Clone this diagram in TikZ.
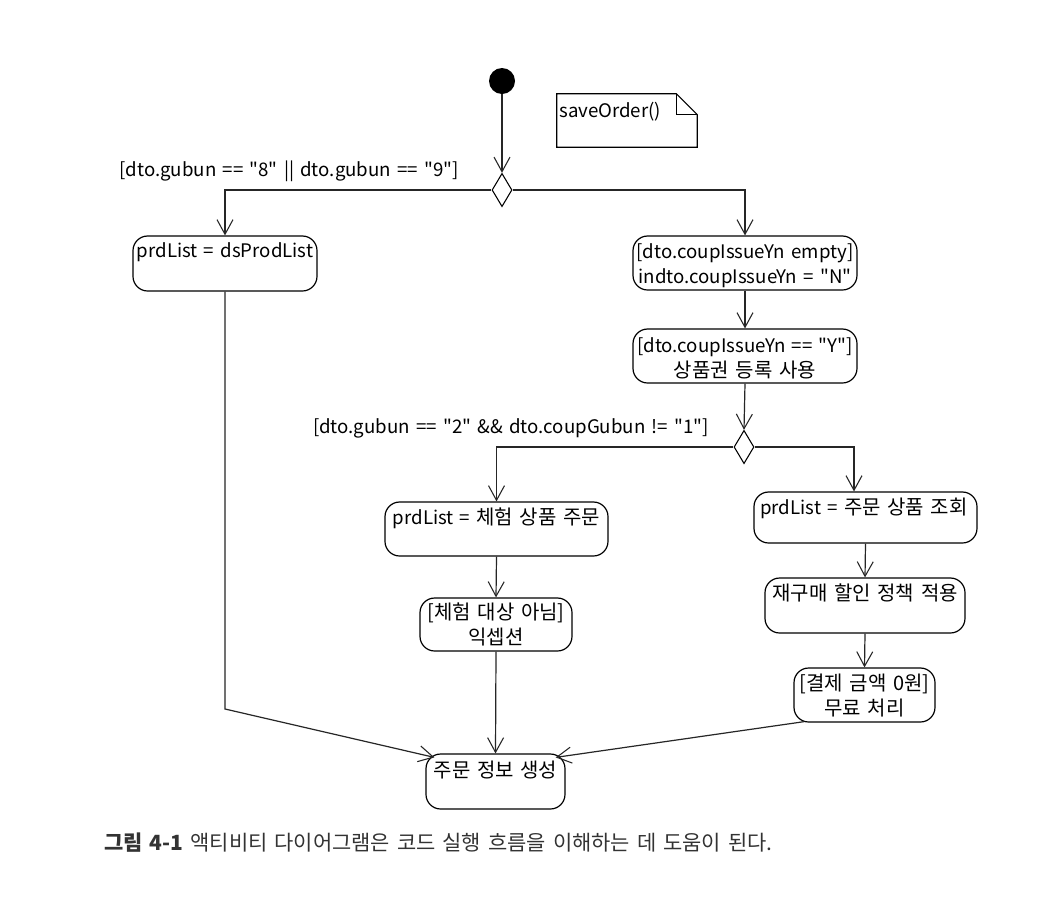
\documentclass[tikz,border=0pt]{standalone}
\usepackage{fontspec}
\setmainfont{Noto Sans CJK KR}[Ligatures=TeXOff, WordSpace=1.5]
\newfontfamily\kr{Noto Sans CJK KR}[Ligatures=TeXOff, WordSpace=1.5, Scale=1.07]
\usetikzlibrary{arrows.meta,shapes.geometric,fit,calc}
\begin{document}
\begin{tikzpicture}[x=0.75pt,y=-0.75pt,
  every node/.style={font=\fontsize{14}{18.75}\selectfont, text=black},
  actbox/.style={draw=black, line width=0.9pt, rounded corners=11pt, inner sep=0pt},
  boxtext/.style={inner sep=0pt, align=center},
  flow/.style={draw=black!85, line width=0.9pt, -{Straight Barb[length=11pt,width=12pt,line width=0.8pt]}},
  decision/.style={diamond, draw=black, line width=0.8pt, inner sep=0pt, minimum width=15pt, minimum height=25pt},
  guard/.style={inner sep=0pt, anchor=east}
]
\useasboundingbox[fill=white] (0,0) rectangle (1060,900);

% start
\node[circle, fill=black, inner sep=0pt, minimum size=19.5pt] (start) at (502,81) {};
% note
\node[inner sep=0pt, fit={(557,94) (697,147)}] (note) {};
\draw[black, line width=0.8pt] (note.north west) -- ($(note.north east)+(-21,0)$) -- ($(note.north east)+(0,21)$) -- (note.south east) -- (note.south west) -- cycle;
\draw[black, line width=0.8pt] ($(note.north east)+(-21,0)$) -- ($(note.north east)+(-21,21)$) -- ($(note.north east)+(0,21)$);
\node[inner sep=0pt, anchor=west] (notetext) at (559,112) {saveOrder()};

% decision 1
\node[decision] (d1) at (502,190) {};
\node[guard] (g1) at (459,171) {[dto.gubun == "8" || dto.gubun == "9"]};

% boxes
\node[actbox, fit={(133,236) (317,291)}] (b1) {};
\node[boxtext] (b1t) at (225,252) {prdList = dsProdList};

\node[actbox, fit={(633,236) (857,290)}] (b2) {};
\node[boxtext] (b2t) at (745,265.5) {[dto.coupIssueYn empty]\\indto.coupIssueYn = "N"};

\node[actbox, fit={(633,329) (857,383)}] (b3) {};
\node[boxtext] (b3t) at (745,358) {[dto.coupIssueYn == "Y"]\\{\kr 상품권 등록 사용}};

% decision 2
\node[decision] (d2) at (744,447) {};
\node[guard] (g2) at (709,428) {[dto.gubun == "2" \&\& dto.coupGubun != "1"]};

\node[actbox, fit={(385,502) (608,556)}] (b4) {};
\node[boxtext] (b4t) at (496.5,518) {prdList = {\kr 체험 상품 주문}};

\node[actbox, fit={(420,598) (572,651)}] (b6) {};
\node[boxtext] (b6t) at (496,624.5) {{\kr [체험 대상 아님]}\\{\kr 익셉션}};

\node[actbox, fit={(754,492) (977,543)}] (b5) {};
\node[boxtext] (b5t) at (864,508) {prdList = {\kr 주문 상품 조회}};

\node[actbox, fit={(765,578) (965,633)}] (b7) {};
\node[boxtext] (b7t) at (865,593) {{\kr 재구매 할인 정책 적용}};

\node[actbox, fit={(794,668) (935,722)}] (b8) {};
\node[boxtext] (b8t) at (864.5,695.5) {{\kr [결제 금액 0원]}\\{\kr 무료 처리}};

\node[actbox, fit={(426,754) (565,809)}] (fin) {};
\node[boxtext] (fint) at (495.5,770) {{\kr 주문 정보 생성}};

% helper coordinates
\coordinate (bend) at (225,709);
\coordinate (finL) at ($(fin.north west)+(9,4)$);
\coordinate (finR) at ($(fin.north east)+(-10,4)$);
\coordinate (b8out) at ($(b8.south west)+(11,-1)$);
\coordinate (b5in) at ($(b5.north)+(-11.5,0)$);

% connectors
\draw[flow] (start.south) -- (d1.north);
\draw[flow] (d1.west) -| (b1.north);
\draw[flow] (d1.east) -| (b2.north);
\draw[flow] (b2.south) -- (b3.north);
\draw[flow] (b3.south) -- (d2.north);
\draw[flow] (d2.west) -| (b4.north);
\draw[flow] (d2.east) -| (b5in);
\draw[flow] (b4.south) -- (b6.north);
\draw[flow] (b6.south) -- (fin.north);
\draw[flow] (b5.south) -- (b7.north);
\draw[flow] (b7.south) -- (b8.north);
\draw[flow] (b1.south) -- (bend) -- (finL);
\draw[flow] (b8out) -- (finR);

% caption
\node[inner sep=0pt, anchor=west, font=\fontsize{15.7}{18}\selectfont, text=black!80] (caption) at (104,843) {{\bfseries 그림 4-1} 액티비티 다이어그램은 코드 실행 흐름을 이해하는 데 도움이 된다.};
\end{tikzpicture}
\end{document}
